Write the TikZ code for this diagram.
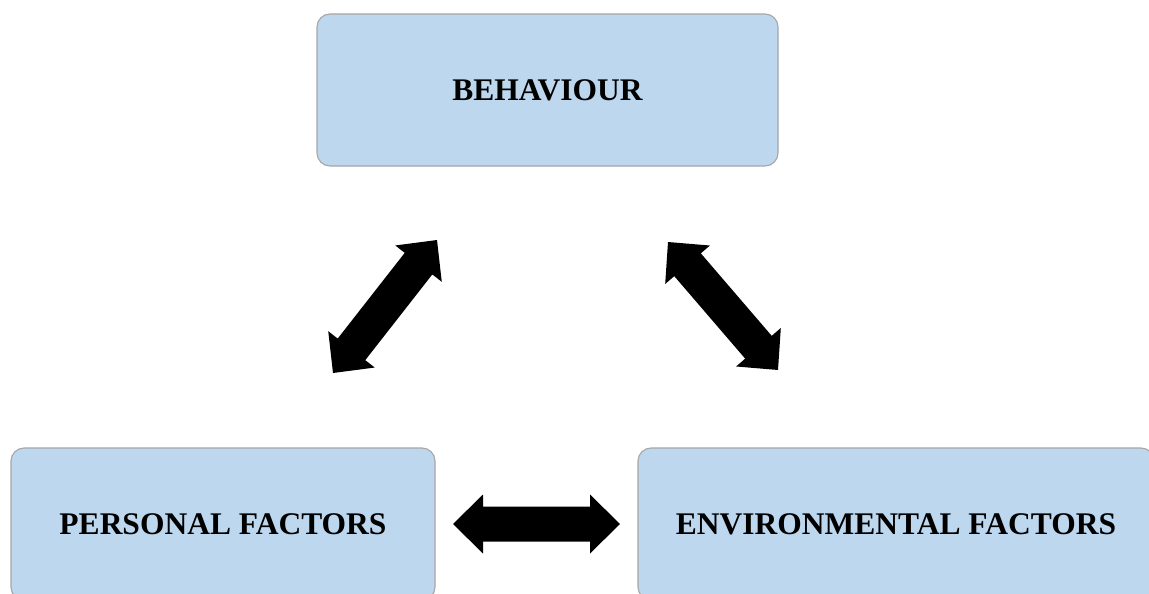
\documentclass[tikz,border=0pt]{standalone}
\usepackage{fontspec}
\setmainfont{Liberation Serif}
\usetikzlibrary{calc}

\definecolor{boxfill}{HTML}{BDD7EE}
\definecolor{boxline}{HTML}{A6A6A6}

% Double-headed block arrow between two named tips (#1, #2); #3 prefixes helper coordinates
\newcommand\dblblock[3]{%
  \coordinate (#3a) at ($(#1)!30pt!(#2)$);
  \coordinate (#3b) at ($(#2)!30pt!(#1)$);
  \fill[blockarrow] (#1)
    -- ($(#3a)!29.5pt!90:(#2)$) -- ($(#3a)!17.5pt!90:(#2)$)
    -- ($(#3b)!17.5pt!-90:(#1)$) -- ($(#3b)!29.5pt!-90:(#1)$)
    -- (#2)
    -- ($(#3b)!29.5pt!90:(#1)$) -- ($(#3b)!17.5pt!90:(#1)$)
    -- ($(#3a)!17.5pt!-90:(#2)$) -- ($(#3a)!29.5pt!-90:(#2)$)
    -- cycle;}

\begin{document}
\begin{tikzpicture}[x=1pt,y=-1pt,
  factorbox/.style={draw=boxline, line width=1.1pt, fill=boxfill,
    rounded corners=13pt, minimum height=152pt, inner sep=0pt,
    font=\fontsize{31.5}{36}\selectfont\bfseries, text=black},
  blockarrow/.style={fill=black}]
\useasboundingbox (0,0) rectangle (1149,594);
\clip (0,0) rectangle (1149,594);
\fill[white] (0,0) rectangle (1149,594);

% the three factors
\node[factorbox, minimum width=461pt] (beh) at (547.5,90) {BEHAVIOUR};
\node[factorbox, minimum width=424pt] (per) at (223,524) {PERSONAL FACTORS};
\node[factorbox, minimum width=516pt] (env) at (896,524) {ENVIRONMENTAL FACTORS};

% tips of the reciprocal arrows
\coordinate (pb1) at (333,373);
\coordinate (pb2) at (437,240);
\coordinate (eb1) at (668,242);
\coordinate (eb2) at (778,370);
\coordinate (pe1) at (453,524);
\coordinate (pe2) at (620,524);

\dblblock{pb1}{pb2}{pbh}
\dblblock{eb1}{eb2}{ebh}
\dblblock{pe1}{pe2}{peh}
\end{tikzpicture}
\end{document}
